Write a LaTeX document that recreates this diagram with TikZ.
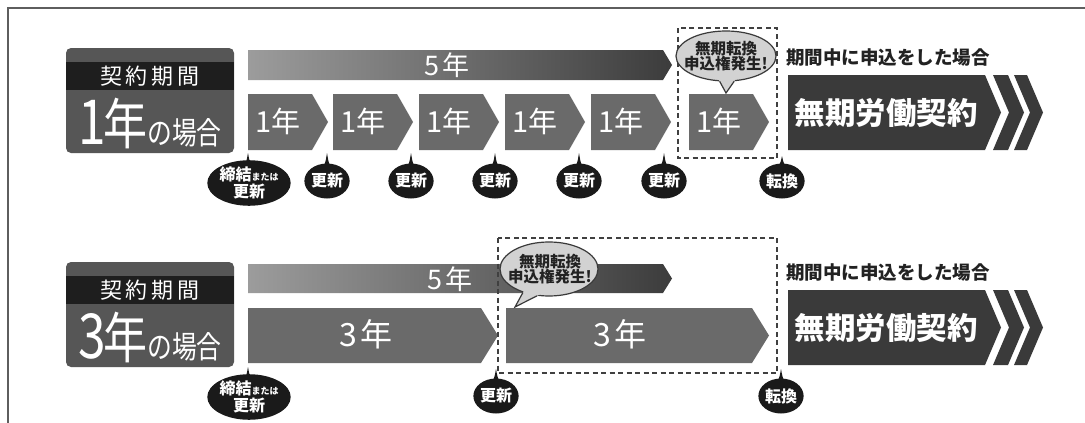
\documentclass[tikz,border=0pt]{standalone}
\usepackage{fontspec}
\setmainfont{Noto Sans CJK JP}
\usetikzlibrary{calc,shapes.geometric}
\definecolor{framec}{HTML}{5E5E5E}
\definecolor{boxc}{HTML}{565656}
\definecolor{bandc}{HTML}{1E1E1E}
\definecolor{chevc}{HTML}{6A6A6A}
\definecolor{barL}{HTML}{9C9C9C}
\definecolor{barR}{HTML}{3C3C3C}
\definecolor{bigc}{HTML}{3A3A3A}
\definecolor{bubc}{HTML}{1A1A1A}
\definecolor{spfill}{HTML}{D2D2D2}
\definecolor{spline}{HTML}{3A3A3A}
\definecolor{dashc}{HTML}{404040}
\definecolor{headc}{HTML}{222222}
\newcommand\fs[1]{\fontsize{#1}{#1}\selectfont}
% bubble tail: x, tip y, base y
\newcommand\btail[3]{\fill[bubc] (#1-7,#3) .. controls (#1-2,#3-4) .. (#1,#2) .. controls (#1+2,#3-4) .. (#1+7,#3) -- cycle;}
\begin{document}
\begin{tikzpicture}[x=1pt,y=-1pt,
  lbltop/.style={text=white, inner sep=0pt, font=\fs{22}},
  lblbig/.style={text=white, inner sep=0pt, anchor=base},
  bartxt/.style={text=white, inner sep=0pt, font=\fs{27}},
  yl/.style={text=white, inner sep=0pt, font=\fs{29}},
  yl3/.style={text=white, inner sep=0pt, font=\fs{32}},
  bub/.style={ellipse, fill=bubc, text=white, inner sep=0pt, minimum width=41pt, minimum height=35pt, font=\bfseries\fs{16}},
  bubw/.style={ellipse, fill=bubc, text=white, inner sep=0pt, minimum width=70pt, minimum height=42pt, align=center, font=\bfseries\fontsize{16}{17}\selectfont},
  spb/.style={ellipse, fill=spfill, draw=spline, line width=1.2pt, inner sep=0pt},
  sptxt/.style={text=headc, inner sep=0pt, align=center, font=\bfseries\fontsize{15.5}{15.5}\selectfont},
  sptail/.style={draw=spline, line width=1.2pt, line join=miter},
  dashbox/.style={draw=dashc, line width=2pt, dash pattern=on 5pt off 3.5pt},
  head/.style={text=headc, inner sep=0pt, anchor=west, font=\bfseries\fs{18.5}},
  bigtxt/.style={text=white, inner sep=0pt, font=\bfseries\fs{30.5}}]
\useasboundingbox (0,0) rectangle (1085,423);
\fill[white] (0,0) rectangle (1085,423);
\draw[framec, line width=2pt] (8,423) -- (8,8) -- (1085,8);

% ================= row 1 =================
\fill[boxc, rounded corners=5pt] (66,48) rectangle (234,153);
\fill[bandc] (66,62) rectangle (234,90);
\node[lbltop] (k1) at (150,76) {契\kern4pt 約\kern4pt 期\kern4pt 間};
\node[lblbig] (c1) at (150,144) {\scalebox{0.8}[1]{{\fs{62}1}\kern-3pt{\fs{55}年}{\fs{31}の場合}}};

\shade[left color=barL, right color=barR] (248,50) -- (663,50) -- (672,65) -- (663,80) -- (248,80) -- cycle;
\node[bartxt] (f1) at (447,65) {5\kern3pt 年};

\foreach \x [count=\i] in {248,333,419,505,591,689} {
  \fill[chevc] (\x,94) -- ++(64,0) -- ++(16,28) -- ++(-16,28) -- ++(-64,0) -- cycle;
  \node[yl] (t\i) at (\x+30,121) {1年};
}

\draw[dashbox] (678,28) rectangle (777,158);

\node[spb, minimum width=100pt, minimum height=50pt] (s1) at (726,56) {};
\coordinate (s1tip) at (726,93);
\fill[spfill] ($(s1tip)!1.4!(s1.256)$) -- (s1tip) -- ($(s1tip)!1.4!(s1.288)$) -- cycle;
\draw[sptail] (s1.256) -- (s1tip) -- (s1.288);
\node[sptxt] (s1t) at (726,56) {無期転換\\申込権発生!};

\node[head] (h1) at (786,58) {期間中に申込をした場合};
\fill[bigc] (788,75) -- (985,75) -- (1001,112.5) -- (985,150) -- (788,150) -- cycle;
\fill[bigc] (993,75) -- (1008,75) -- (1024,112.5) -- (1008,150) -- (993,150) -- (1009,112.5) -- cycle;
\fill[bigc] (1014,75) -- (1027,75) -- (1043,112.5) -- (1027,150) -- (1014,150) -- (1030,112.5) -- cycle;
\node[bigtxt] (m1) at (886,113) {無期労働契約};

\btail{248}{153}{168}
\node[bubw] (e1) at (249,183) {締結{\fs{9}または}\\更新};
\foreach \x [count=\i] in {327,411,495,579,664} {
  \btail{\x}{153}{169}
  \node[bub] (u\i) at (\x,181) {更新};
}
\btail{782}{156}{169}
\node[bub] (z1) at (782,181) {転換};

% ================= row 2 =================
\fill[boxc, rounded corners=5pt] (66,262) rectangle (234,367);
\fill[bandc] (66,276) rectangle (234,304);
\node[lbltop] (k2) at (150,290) {契\kern4pt 約\kern4pt 期\kern4pt 間};
\node[lblbig] (c2) at (150,358) {\scalebox{0.8}[1]{{\fs{62}3}\kern-3pt{\fs{55}年}{\fs{31}の場合}}};

\shade[left color=barL, right color=barR] (248,264) -- (663,264) -- (672,278.5) -- (663,293) -- (248,293) -- cycle;
\node[bartxt] (f2) at (450,279) {5\kern3pt 年};

\fill[chevc] (248,308) -- ++(233,0) -- ++(17,27.5) -- ++(-17,27.5) -- ++(-233,0) -- cycle;
\node[yl3] (r1) at (366,334) {3\kern4pt 年};
\fill[chevc] (506,308) -- ++(246,0) -- ++(17,27.5) -- ++(-17,27.5) -- ++(-246,0) -- cycle;
\node[yl3] (r2) at (620,334) {3\kern4pt 年};

\draw[dashbox] (498,238) rectangle (777,373);

\node[spb, minimum width=98pt, minimum height=54pt] (s2) at (549,269) {};
\coordinate (s2tip) at (515,307);
\fill[spfill] ($(s2tip)!1.4!(s2.222)$) -- (s2tip) -- ($(s2tip)!1.4!(s2.246)$) -- cycle;
\draw[sptail] (s2.222) -- (s2tip) -- (s2.246);
\node[sptxt] (s2t) at (550,269) {無期転換\\申込権発生!};

\node[head] (h2) at (786,273) {期間中に申込をした場合};
\fill[bigc] (788,290) -- (985,290) -- (1001,327.5) -- (985,365) -- (788,365) -- cycle;
\fill[bigc] (993,290) -- (1008,290) -- (1024,327.5) -- (1008,365) -- (993,365) -- (1009,327.5) -- cycle;
\fill[bigc] (1014,290) -- (1027,290) -- (1043,327.5) -- (1027,365) -- (1014,365) -- (1030,327.5) -- cycle;
\node[bigtxt] (m2) at (886,328) {無期労働契約};

\btail{248}{367}{382}
\node[bubw] (e2) at (249,397) {締結{\fs{9}または}\\更新};
\btail{496}{369}{384}
\node[bub] (u6) at (496,396) {更新};
\btail{781}{369}{384}
\node[bub] (z2) at (781,396) {転換};
\end{tikzpicture}
\end{document}
